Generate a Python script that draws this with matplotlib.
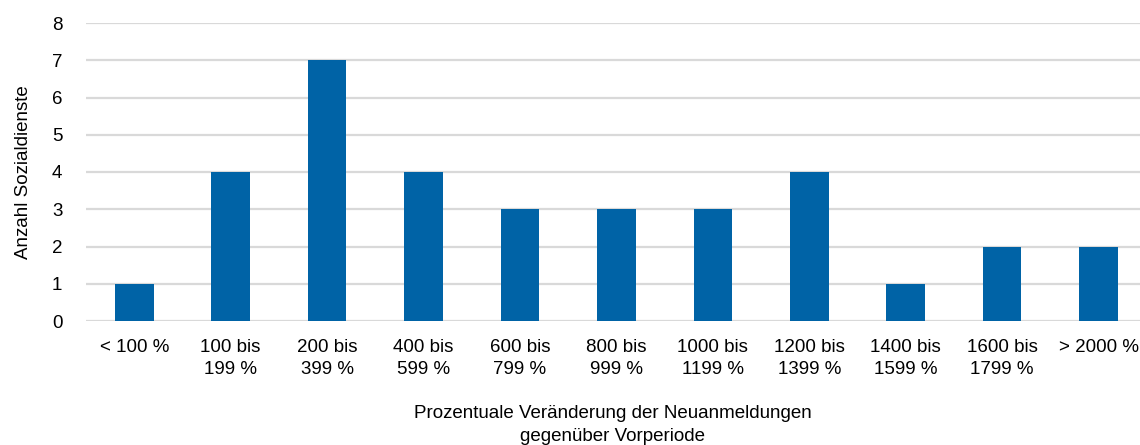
import matplotlib
matplotlib.use("Agg")
import matplotlib.pyplot as plt

plt.rcParams["font.family"] = ["Liberation Sans", "DejaVu Sans"]

categories = [
    "< 100 %", "100 bis\n199 %", "200 bis\n399 %", "400 bis\n599 %",
    "600 bis\n799 %", "800 bis\n999 %", "1000 bis\n1199 %", "1200 bis\n1399 %",
    "1400 bis\n1599 %", "1600 bis\n1799 %", "> 2000 %",
]
counts = [1, 4, 7, 4, 3, 3, 3, 4, 1, 2, 2]
y_ticks = [0, 1, 2, 3, 4, 5, 6, 7, 8]

BAR_COLOR = "#0063A6"
GRID_COLOR = "#D9D9D9"

fig = plt.figure(figsize=(11.4, 4.45), dpi=100)
ax = fig.add_axes([86 / 1140, 1 - 321 / 445, (1140 - 86) / 1140, (321 - 23) / 445])

x = list(range(len(categories)))
ax.bar(x, counts, width=0.40, color=BAR_COLOR, zorder=3)

ax.set_xlim(-0.5, 10.43)
ax.set_ylim(0, 8)
ax.set_yticks(y_ticks)
ax.set_xticks(x)
ax.set_xticklabels(categories, fontsize=13.5, linespacing=1.35)
ax.tick_params(axis="y", labelsize=13.5, length=0, pad=17)
ax.tick_params(axis="x", length=0, pad=13)

ax.yaxis.grid(True, color=GRID_COLOR, linewidth=1.6, zorder=0)
for s in ax.spines.values():
    s.set_visible(False)

ax.set_ylabel("Anzahl Sozialdienste", fontsize=13.5, labelpad=14)
ax.set_xlabel("Prozentuale Veränderung der Neuanmeldungen\ngegenüber Vorperiode",
              fontsize=13.5, labelpad=20, linespacing=1.45)

fig.savefig("out.png", dpi=100)
